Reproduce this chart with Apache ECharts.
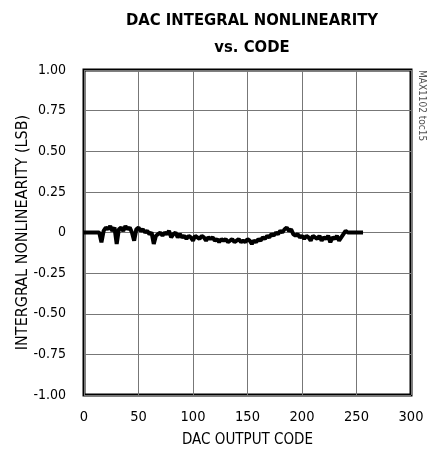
<!DOCTYPE html>
<html>
<head>
<meta charset="utf-8">
<script src="https://cdn.jsdelivr.net/npm/echarts@6/dist/echarts.min.js"></script>
<style>html,body{margin:0;padding:0;background:#fff}#c{width:435px;height:456px}</style>
</head>
<body>
<div id="c"></div>
<script>
const xTicks = [0, 50, 100, 150, 200, 250, 300];
const yTicks = [-1.00, -0.75, -0.50, -0.25, 0, 0.25, 0.50, 0.75, 1.00];
const codes = [0, 14, 16, 17, 18, 20, 22, 24, 26, 28, 30, 31, 32, 34, 36, 38, 40, 42, 44, 46, 47, 48, 50,
  52, 54, 56, 58, 60, 62, 64, 65, 66, 68, 70, 72, 74, 76, 78, 80, 82, 84, 86, 88, 90,
  92, 94, 96, 98, 100, 102, 104, 106, 108, 110, 112, 114, 116, 118, 120, 122, 124, 126, 128, 130,
  132, 134, 136, 138, 140, 142, 144, 146, 148, 150, 152, 154, 156, 158, 160, 162, 164, 166, 168, 170,
  172, 174, 176, 178, 180, 182, 184, 186, 188, 190, 192, 194, 196, 198, 200, 202, 204, 206, 208, 210,
  212, 214, 216, 218, 220, 222, 224, 226, 228, 230, 232, 234, 236, 238, 240, 242, 244, 256];
const inl = [0, 0, -0.06, -0.05, 0.01, 0.03, 0.02, 0.04, 0.01, 0.03, -0.07, -0.06, 0.02, 0.03, 0.01, 0.04, 0.02, 0.03, 0.00, -0.05, -0.04, 0.02, 0.03,
  0.01, 0.02, 0.00, 0.01, -0.01, 0.00, -0.07, -0.06, -0.02, -0.01, 0.00, -0.02, 0.00, -0.01, 0.01, -0.03, -0.01, 0.00, -0.03, -0.01, -0.03,
  -0.02, -0.04, -0.02, -0.03, -0.05, -0.02, -0.03, -0.04, -0.02, -0.03, -0.05, -0.03, -0.04, -0.03, -0.05, -0.04, -0.06, -0.04, -0.05, -0.04,
  -0.06, -0.05, -0.04, -0.06, -0.05, -0.04, -0.06, -0.05, -0.06, -0.04, -0.05, -0.07, -0.05, -0.06, -0.04, -0.05, -0.03, -0.04, -0.02, -0.03,
  -0.01, -0.02, 0.00, -0.01, 0.01, 0.00, 0.02, 0.03, 0.01, 0.02, -0.01, -0.02, -0.01, -0.03, -0.02, -0.04, -0.02, -0.03, -0.05, -0.02,
  -0.03, -0.04, -0.02, -0.05, -0.03, -0.04, -0.02, -0.06, -0.03, -0.04, -0.02, -0.05, -0.03, -0.01, 0.01, 0.00, 0, 0];

const font = '"DejaVu Sans Condensed", "Liberation Sans Narrow", sans-serif';
const chart = echarts.init(document.getElementById('c'), null, {renderer: 'canvas'});
chart.setOption({
  animation: false,
  backgroundColor: '#fff',
  title: {
    text: 'DAC INTEGRAL NONLINEARITY\nvs. CODE',
    left: 247, top: 2, textAlign: 'center',
    textStyle: {fontFamily: font, fontWeight: 'bold', fontSize: 16.5, lineHeight: 27, color: '#000'}
  },
  grid: {left: 84, right: 24, top: 70, bottom: 61, outerBoundsMode: 'none', containLabel: false,
    show: true, borderColor: '#000', borderWidth: 3, backgroundColor: 'transparent'},
  xAxis: {
    type: 'value', min: xTicks[0], max: xTicks[xTicks.length - 1], interval: 50,
    name: 'DAC OUTPUT CODE', nameLocation: 'middle', nameGap: 38, nameMoveOverlap: false,
    nameTextStyle: {fontFamily: font, fontSize: 15, color: '#000'},
    axisLine: {show: false}, axisTick: {show: false},
    axisLabel: {fontFamily: font, fontSize: 14.5, color: '#000', margin: 15},
    splitLine: {show: true, lineStyle: {color: '#777', width: 1}}
  },
  yAxis: {
    type: 'value', min: yTicks[0], max: yTicks[yTicks.length - 1], interval: 0.25,
    name: 'INTERGRAL NONLINEARITY (LSB)', nameLocation: 'middle', nameGap: 53, nameMoveOverlap: false,
    nameTextStyle: {fontFamily: font, fontSize: 16, color: '#000'},
    axisLine: {show: false}, axisTick: {show: false},
    axisLabel: {fontFamily: font, fontSize: 14, color: '#000', margin: 18,
      formatter: v => Math.abs(v) < 1e-9 ? '0' : v.toFixed(2)},
    splitLine: {show: true, lineStyle: {color: '#777', width: 1}}
  },
  graphic: [{
    type: 'text', x: 427, y: 70, rotation: -Math.PI / 2,
    style: {text: 'MAX1102 toc15', fontFamily: font, fontSize: 10, fill: '#555'}
  }],
  series: [{
    type: 'line', showSymbol: false, symbol: 'none',
    data: codes.map((c, i) => [c, inl[i]]),
    lineStyle: {color: '#000', width: 4}
  }]
});
</script>
</body>
</html>
